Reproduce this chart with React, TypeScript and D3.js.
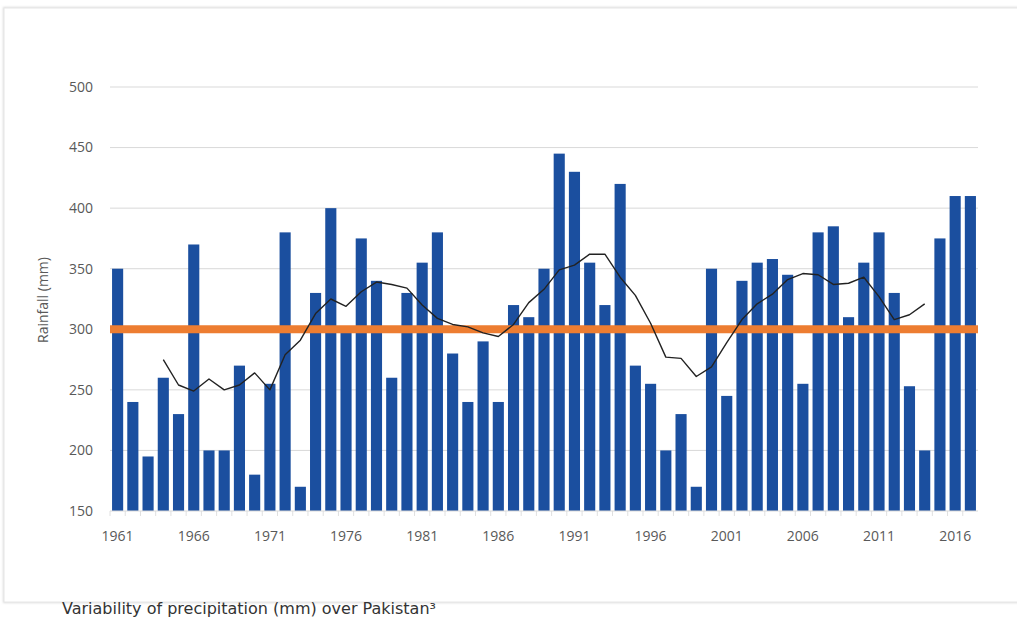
import React from "react";
import * as d3 from "d3";

const years: number[] = d3.range(1961, 2018);
const rainfall: number[] = [
  350, 240, 195, 260, 230, 370, 200, 200, 270, 180,
  255, 380, 170, 330, 400, 300, 375, 340, 260, 330,
  355, 380, 280, 240, 290, 240, 320, 310, 350, 445,
  430, 355, 320, 420, 270, 255, 200, 230, 170, 350,
  245, 340, 355, 358, 345, 255, 380, 385, 310, 355,
  380, 330, 253, 200, 375, 410, 410,
];
const trendYears: number[] = d3.range(1964, 2015);
const trendValues: number[] = [
  275, 254, 249, 259, 250, 254, 264, 250, 279, 291,
  313, 325, 319, 331, 339, 337, 334, 320, 309, 304,
  302, 297, 294, 304, 322, 333, 349, 353, 362, 362,
  343, 328, 305, 277, 276, 261, 269, 289, 308, 321,
  329, 341, 346, 345, 337, 338, 343, 327, 308, 312,
  321,
];
const meanValue = 300;
const yTicks: number[] = [150, 200, 250, 300, 350, 400, 450, 500];
const xLabelYears: number[] = d3.range(1961, 2018, 5);

const W = 1017;
const H = 619;
const plot = { left: 110, right: 978, top: 87, bottom: 511 };

export default function App() {
  const x = d3
    .scaleBand<number>()
    .domain(years)
    .range([plot.left, plot.right])
    .paddingInner(0.27)
    .paddingOuter(0.135);
  const y = d3.scaleLinear().domain([150, 500]).range([plot.bottom, plot.top]);
  const step = x.step();
  const cx = (yr: number) => (x(yr) as number) + x.bandwidth() / 2;

  const line = d3
    .line<number>()
    .x((_, i) => cx(trendYears[i]))
    .y((v) => y(v));

  const font = "'Open Sans', 'Liberation Sans', sans-serif";

  return (
    <div style={{ position: "absolute", left: 0, top: 0 }}>
      <svg width={W} height={H} style={{ display: "block", background: "#fff" }}>
        <defs>
          <filter id="sh" x="-2%" y="-2%" width="104%" height="104%">
            <feGaussianBlur stdDeviation="1.2" />
          </filter>
        </defs>
        <rect x={4} y={8} width={1030} height={594} fill="none" stroke="#dcdcdc" strokeWidth={2} filter="url(#sh)" />
        <rect x={4} y={8} width={1030} height={594} fill="#fff" stroke="#e6e6e6" strokeWidth={1} />

        {yTicks.map((t) => (
          <g key={t}>
            {t !== 150 && (
              <line x1={plot.left} x2={plot.right} y1={y(t)} y2={y(t)} stroke="#d9d9d9" strokeWidth={1} />
            )}
            <text
              x={93}
              y={y(t)}
              dy="0.35em"
              textAnchor="end"
              fontFamily={font}
              fontSize={14}
              fill="#595959"
            >
              {t}
            </text>
          </g>
        ))}

        {years.map((yr, i) => (
          <line
            key={"tk" + yr}
            x1={plot.left + i * step}
            x2={plot.left + i * step}
            y1={plot.bottom}
            y2={plot.bottom + 5}
            stroke="#e0e0e0"
            strokeWidth={1}
          />
        ))}

        {years.map((yr, i) => (
          <rect
            key={yr}
            x={x(yr)}
            y={y(rainfall[i])}
            width={x.bandwidth()}
            height={y(150) - y(rainfall[i])}
            fill="#1b4f9f"
          />
        ))}

        <line x1={plot.left} x2={plot.right} y1={plot.bottom} y2={plot.bottom} stroke="#d9d9d9" strokeWidth={1} />

        <line
          x1={plot.left}
          x2={plot.right}
          y1={y(meanValue)}
          y2={y(meanValue)}
          stroke="#ed7d31"
          strokeWidth={8}
        />

        <path d={line(trendValues) || ""} fill="none" stroke="#222" strokeWidth={1.4} strokeLinejoin="round" />

        {xLabelYears.map((yr) => (
          <text
            key={"xl" + yr}
            x={cx(yr)}
            y={541}
            textAnchor="middle"
            fontFamily={font}
            fontSize={14}
            fill="#595959"
          >
            {yr}
          </text>
        ))}

        <text
          transform={`translate(48,${(plot.top + plot.bottom) / 2 + 1}) rotate(-90)`}
          textAnchor="middle"
          fontFamily={font}
          fontSize={14}
          fill="#595959"
        >
          Rainfall (mm)
        </text>

        <text x={62} y={614} fontFamily="'DejaVu Sans', sans-serif" fontSize={16} fill="#333">
          Variability of precipitation (mm) over Pakistan³
        </text>
      </svg>
    </div>
  );
}
